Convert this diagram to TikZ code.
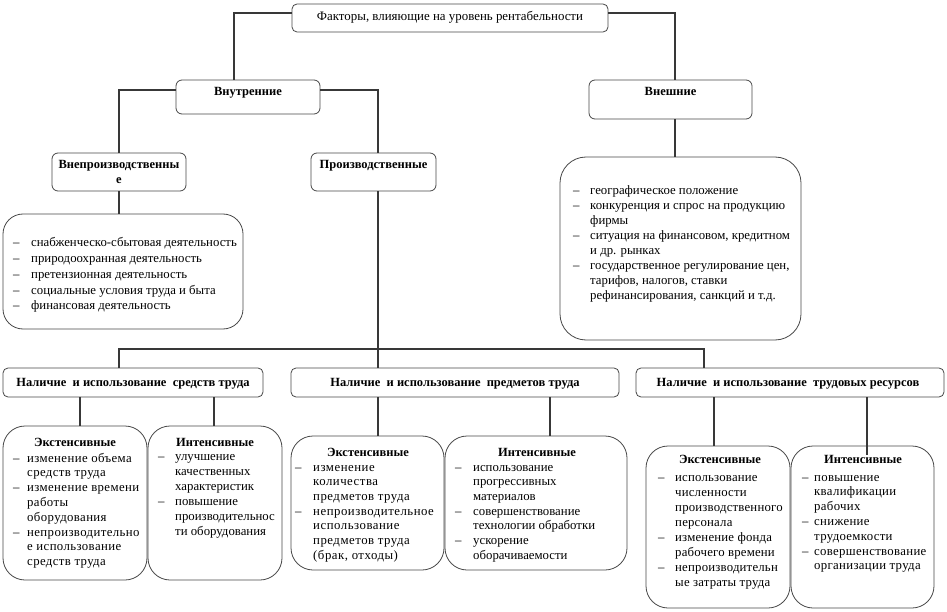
\documentclass[tikz,border=0pt]{standalone}
\usepackage{fontspec}
\setmainfont{Liberation Serif}
\newcommand\dl[2][16pt]{\leavevmode\llap{\makebox[#1][l]{–}}#2}
\begin{document}
\begin{tikzpicture}[x=1pt,y=-1pt,
  box/.style={draw=black!72, line width=0.8pt, rounded corners=#1, inner sep=0pt, fill=white},
  box/.default=6pt,
  conn/.style={draw=black!78, line width=1.1pt},
  txt/.style={inner sep=0pt, anchor=base, font=\fontsize{12.9}{15}\selectfont},
  btxt/.style={inner sep=0pt, anchor=base, font=\fontsize{12.5}{15}\selectfont\bfseries},
  lst/.style={inner sep=0pt, anchor=base west, font=\fontsize{12.8}{15}\selectfont},
  llst/.style={inner sep=0pt, anchor=base west, font=\fontsize{12.8}{15}\selectfont\addfontfeature{LetterSpace=#1}}]
\useasboundingbox (0,0) rectangle (947,612);
% boxes
\node[box=5pt, minimum width=316pt, minimum height=28pt] (title) at (450,18) {};
\node[box, minimum width=144pt, minimum height=34pt] (inner) at (248,97) {};
\node[box, minimum width=163pt, minimum height=39pt] (outer) at (670.5,99.5) {};
\node[box, minimum width=134pt, minimum height=38pt] (vnepr) at (119,172) {};
\node[box, minimum width=125pt, minimum height=38pt] (proizv) at (373.5,172) {};
\node[box=20pt, minimum width=240pt, minimum height=115pt] (list1) at (123,271.5) {};
\node[box=26pt, minimum width=241pt, minimum height=183pt] (list2) at (680.5,248.5) {};
\node[box=5pt, minimum width=260pt, minimum height=29pt] (cat1) at (133,382.5) {};
\node[box=5pt, minimum width=328pt, minimum height=29pt] (cat2) at (455,382.5) {};
\node[box=5pt, minimum width=308pt, minimum height=29pt] (cat3) at (790,382.5) {};
\node[box=22pt, minimum width=144pt, minimum height=154pt] (leaf11) at (75,503) {};
\node[box=22pt, minimum width=134pt, minimum height=154pt] (leaf12) at (215,503) {};
\node[box=22pt, minimum width=153pt, minimum height=134pt] (leaf21) at (367.5,503) {};
\node[box=22pt, minimum width=182pt, minimum height=134pt] (leaf22) at (536,503) {};
\node[box=22pt, minimum width=144pt, minimum height=162pt] (leaf31) at (718,527) {};
\node[box=22pt, minimum width=143pt, minimum height=162pt] (leaf32) at (862.5,527) {};
% connectors
\draw[conn] ([yshift=5pt]title.west) -| ([xshift=-14pt]inner.north);
\draw[conn] ([yshift=5pt]title.east) -| ([xshift=4.5pt]outer.north);
\draw[conn] ([yshift=7pt]inner.west) -| (vnepr.north);
\draw[conn] ([yshift=7pt]inner.east) -| ([xshift=4.5pt]proizv.north);
\draw[conn] ([xshift=4.5pt]outer.south) -- ([xshift=4.5pt]outer.south |- list2.north);
\draw[conn] (vnepr.south) -- (vnepr.south |- list1.north);
\draw[conn] ([xshift=4.5pt]proizv.south) -- ([xshift=4.5pt]proizv.south |- cat2.north);
\coordinate (busL) at (119,349);
\coordinate (busR) at (704,349);
\draw[conn] (busL |- cat1.north) -- (busL) -- (busR) -- (busR |- cat3.north);
\draw[conn] ([xshift=-53pt]cat1.south) -- ([xshift=-53pt]cat1.south |- leaf11.north);
\draw[conn] ([xshift=81pt]cat1.south) -- ([xshift=81pt]cat1.south |- leaf12.north);
\draw[conn] ([xshift=-77pt]cat2.south) -- ([xshift=-77pt]cat2.south |- leaf21.north);
\draw[conn] ([xshift=95pt]cat2.south) -- ([xshift=95pt]cat2.south |- leaf22.north);
\draw[conn] ([xshift=-76pt]cat3.south) -- ([xshift=-76pt]cat3.south |- leaf31.north);
\draw[conn] ([xshift=77pt]cat3.south) -- ([xshift=77pt,yshift=-9pt]cat3.south |- leaf32.north);
% texts
\node[txt] (ttitle) at (450,21) {Факторы, влияющие на уровень рентабельности};
\node[btxt] (tinner) at (248,96) {Внутренние};
\node[btxt] (touter) at (670.5,96) {Внешние};
\node[btxt] (tvnepr) at (119,169) {Внепроизводственны};
\node[btxt] (tvnepr2) at (119,184) {е};
\node[btxt] (tproizv) at (373.5,169) {Производственные};
\node[btxt] (tcat1) at (133,386) {Наличие\ \ и использование\ \ средств труда};
\node[btxt] (tcat2) at (455,386) {Наличие\ \ и использование\ \ предметов труда};
\node[btxt] (tcat3) at (788,386) {Наличие\ \ и использование\ \ трудовых ресурсов};
\node[lst] (tl1) at (31,247) {\parbox[t]{230pt}{\baselineskip=15.75pt
 \dl[18pt]{снабженческо-сбытовая деятельность}\\
 \dl[18pt]{природоохранная деятельность}\\
 \dl[18pt]{претензионная деятельность}\\
 \dl[18pt]{социальные условия труда и быта}\\
 \dl[18pt]{финансовая деятельность}}};
\node[lst] (tl2) at (590,195) {\parbox[t]{230pt}{\baselineskip=14.86pt
 \dl[17pt]{географическое положение}\\
 \dl[17pt]{конкуренция и спрос на продукцию}\\
 фирмы\\
 \dl[17pt]{ситуация на финансовом, кредитном}\\
 и др. рынках\\
 \dl[17pt]{государственное регулирование цен,}\\
 тарифов, налогов, ставки\\
 рефинансирования, санкций и т.д.}};
% leaf 11
\node[btxt] (h11) at (75,446) {Экстенсивные};
\node[llst=3] (t11) at (27,462) {\parbox[t]{200pt}{\baselineskip=14.8pt
 \dl[14pt]{изменение объема}\\
 средств труда\\
 \dl[14pt]{изменение времени}\\
 работы\\
 оборудования\\
 \dl[14pt]{непроизводительно}\\
 е использование\\
 средств труда}};
% leaf 12
\node[btxt] (h12) at (215,446) {Интенсивные};
\node[llst=0] (t12) at (175,460.5) {\parbox[t]{200pt}{\baselineskip=15pt
 \dl[17pt]{улучшение}\\
 качественных\\
 характеристик\\
 \dl[17pt]{повышение}\\
 производительнос\\
 ти оборудования}};
% leaf 21
\node[btxt] (h21) at (368,456) {Экстенсивные};
\node[llst=4] (t21) at (313,471) {\parbox[t]{200pt}{\baselineskip=14.7pt
 \dl[18pt]{изменение}\\
 количества\\
 предметов труда\\
 \dl[18pt]{непроизводительное}\\
 использование\\
 предметов труда\\
 (брак, отходы)}};
% leaf 22
\node[btxt] (h22) at (537,456) {Интенсивные};
\node[llst=0] (t22) at (473,471) {\parbox[t]{200pt}{\baselineskip=14.7pt
 \dl[18pt]{использование}\\
 прогрессивных\\
 материалов\\
 \dl[18pt]{совершенствование}\\
 технологии обработки\\
 \dl[18pt]{ускорение}\\
 оборачиваемости}};
% leaf 31
\node[btxt] (h31) at (720,463) {Экстенсивные};
\node[llst=1.5] (t31) at (675,481) {\parbox[t]{200pt}{\baselineskip=15pt
 \dl[17pt]{использование}\\
 численности\\
 производственного\\
 персонала\\
 \dl[17pt]{изменение фонда}\\
 рабочего времени\\
 \dl[17pt]{непроизводительн}\\
 ые затраты труда}};
% leaf 32
\node[btxt] (h32) at (863,463) {Интенсивные};
\node[llst=2.5] (t32) at (814,481) {\parbox[t]{200pt}{\baselineskip=14.8pt
 \dl[12pt]{повышение}\\
 квалификации\\
 рабочих\\
 \dl[12pt]{снижение}\\
 трудоемкости\\
 \dl[12pt]{совершенствование}\\
 организации труда}};
\end{tikzpicture}
\end{document}
